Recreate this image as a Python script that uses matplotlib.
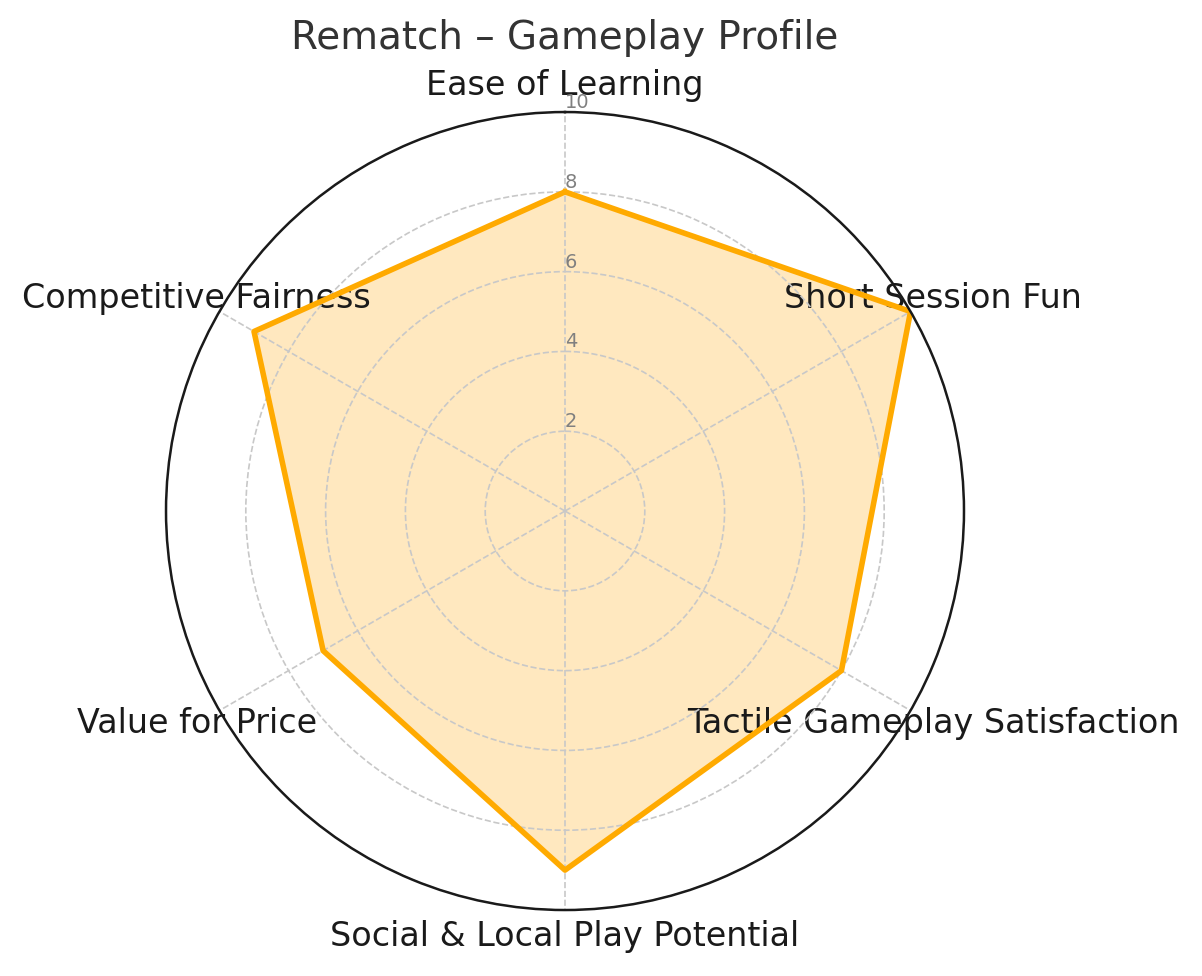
import numpy as np
import matplotlib
matplotlib.use("Agg")
import matplotlib.pyplot as plt

categories = ["Ease of Learning", "Short Session Fun", "Tactile Gameplay Satisfaction",
              "Social & Local Play Potential", "Value for Price", "Competitive Fairness"]
scores = [8, 10, 8, 9, 7, 9]
r_ticks = [2, 4, 6, 8, 10]
title = "Rematch \u2013 Gameplay Profile"


def radar():
    n = len(categories)
    angles = np.linspace(0, 2 * np.pi, n, endpoint=False).tolist()
    vals = scores + scores[:1]
    angles_c = angles + angles[:1]

    fig = plt.figure(figsize=(6.01, 4.88), dpi=200)
    ax = fig.add_axes([0.1381, 0.0676, 0.6639, 0.8176], polar=True)
    ax.set_theta_offset(np.pi / 2)
    ax.set_theta_direction(-1)

    ax.plot(angles_c, vals, color="#FFAA00", linewidth=2)
    ax.fill(angles_c, vals, color="orange", alpha=0.25)

    ax.set_xticks(angles)
    ax.set_xticklabels(categories, fontsize=12, color="#1a1a1a")
    ax.tick_params(axis="x", pad=-1)
    ax.set_ylim(0, 10)
    ax.set_yticks(r_ticks)
    ax.set_yticklabels([str(t) for t in r_ticks], fontsize=7, color="gray")
    ax.set_rlabel_position(0)
    ax.grid(color="#c8c8c8", linestyle="--", linewidth=0.6)
    ax.spines["polar"].set_color("#1a1a1a")
    ax.spines["polar"].set_linewidth(0.9)

    fig.suptitle(title, fontsize=14, color="#333333", x=0.47, y=0.981)
    fig.savefig("out.png")


if __name__ == "__main__":
    radar()
